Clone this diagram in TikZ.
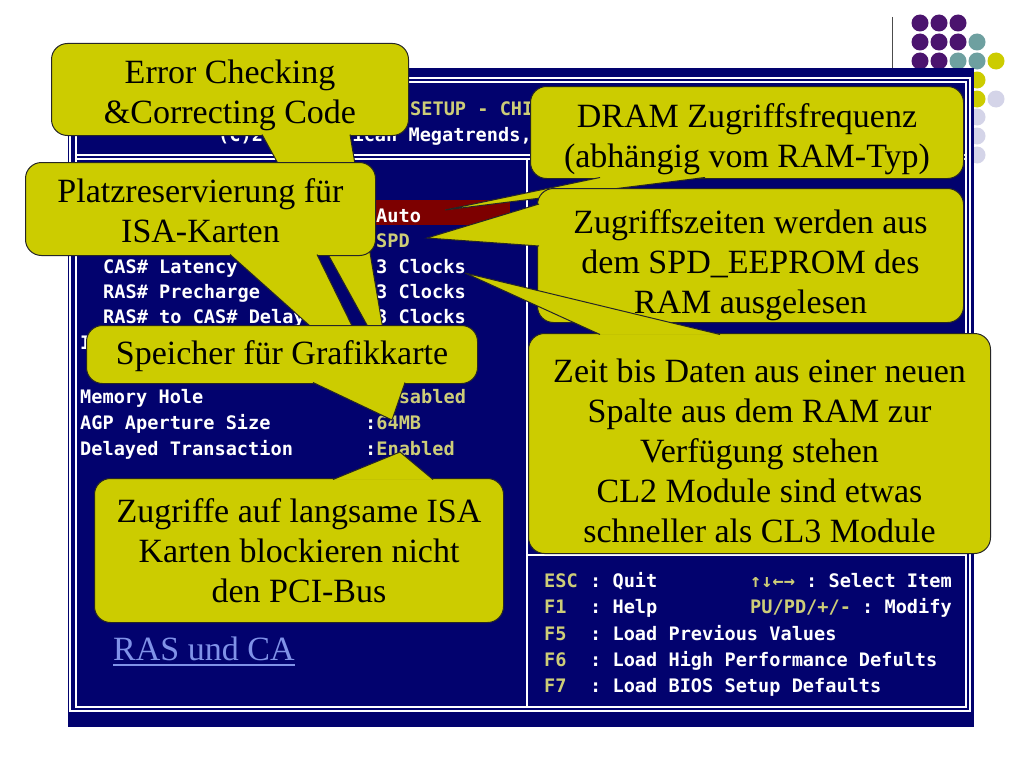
\documentclass[tikz,border=0pt]{standalone}
\usepackage{fontspec}
\setmainfont{Liberation Serif}
\newfontfamily\biosfont{DejaVu Sans Mono}
\definecolor{biosblue}{RGB}{2,2,110}
\definecolor{biosred}{RGB}{125,0,0}
\definecolor{bioskhaki}{RGB}{205,205,120}
\definecolor{callyellow}{RGB}{204,204,0}
\definecolor{linkblue}{RGB}{128,146,232}
\definecolor{dotpurple}{RGB}{75,20,110}
\definecolor{dotteal}{RGB}{110,160,160}
\definecolor{dotlav}{RGB}{212,212,232}

\begin{document}
\begin{tikzpicture}[x=1pt,y=-1pt]
    \tikzstyle{callbox}=[draw=black!85, fill=callyellow, line width=1pt, rounded corners=16pt, inner sep=0pt, align=center, anchor=north west, font=\fontsize{34}{40}\selectfont]
    \tikzstyle{tail}=[draw=black!85, fill=callyellow, line width=1pt]
    \tikzstyle{bios}=[inner sep=0pt, anchor=base west, text=white, font=\biosfont\bfseries\fontsize{18.6}{22}\selectfont\frenchspacing]
    \tikzstyle{biosval}=[bios, text=bioskhaki]
    \tikzstyle{frame}=[draw=white, line width=1.2pt]

    \useasboundingbox (0,0) rectangle (1024,768);
    \fill[white] (0,0) rectangle (1024,768);
    \draw[black!70] (892,17) -- (892,68);
    \foreach \x/\y/\c in {920/23/dotpurple, 939/23/dotpurple, 958/23/dotpurple,
        920/42/dotpurple, 939/42/dotpurple, 958/42/dotpurple, 977/42/dotteal,
        920/61/dotpurple, 939/61/dotpurple, 958/61/dotteal, 977/61/dotteal, 996/61/callyellow,
        977/80/callyellow, 977/99/callyellow, 996/99/dotlav,
        977/117/dotlav, 977/136/dotlav, 977/155/dotlav}
        \fill[\c] (\x,\y) circle (8.5pt);

    \fill[biosblue] (68,68) rectangle (974,727);
    \draw[frame] (70,78) rectangle (970,711);
    \draw[frame] (76,82) rectangle (966,707);
    \draw[frame] (76,155) -- (966,155) (76,159) -- (966,159);
    \draw[frame] (527,159) -- (527,707) (527,555) -- (966,555);
    \fill[biosred] (375,200) rectangle (510,225);

    \node[biosval] (head) at (410,115) {SETUP - CHI};
    \node[bios] (copy) at (218,141) {(C)2001 American Megatrends,};
    \node[bios] (freqVal) at (376,222) {Auto};
    \node[biosval] (timingVal) at (376,247) {SPD};
    \node[bios] (casLbl) at (103,273) {CAS\# Latency};
    \node[bios] (casVal) at (376,273) {3 Clocks};
    \node[bios] (rpLbl) at (103,298) {RAS\# Precharge};
    \node[bios] (rpVal) at (376,298) {3 Clocks};
    \node[bios] (rcdLbl) at (103,323) {RAS\# to CAS\# Delay};
    \node[bios] (rcdVal) at (376,323) {3 Clocks};
    \node[bios] (isaLbl) at (80,349) {I};
    \node[bios] (holeLbl) at (80,403) {Memory Hole};
    \node[bios] (holeVal) at (365,403) {:\textcolor{bioskhaki}{Disabled}};
    \node[bios] (agpLbl) at (80,429) {AGP Aperture Size};
    \node[bios] (agpVal) at (365,429) {:\textcolor{bioskhaki}{64MB}};
    \node[bios] (dtLbl) at (80,455) {Delayed Transaction};
    \node[bios] (dtVal) at (365,455) {:\textcolor{bioskhaki}{Enabled}};

    \foreach \k/\t/\y in {ESC/Quit/587, F1/Help/613, F5/Load Previous Values/640,
        F6/Load High Performance Defults/666, F7/Load BIOS Setup Defaults/692} {
        \node[biosval] (key\k) at (544,\y) {\k};
        \node[bios] (help\k) at (590,\y) {: \t};
    }
    \node[biosval] (selKeys) at (750,587) {↑↓←→~\textcolor{white}{: Select Item}};
    \node[biosval] (modKeys) at (750,613) {PU/PD/+/-~\textcolor{white}{: Modify}};

    \node[callbox, minimum width=357pt, text height=80pt, text depth=12pt] (ecc) at (51,43) {Error Checking\\\&Correcting Code};
    \coordinate (eccTip) at (389,365);
    \filldraw[tail] ([xshift=211pt,yshift=1.5pt]ecc.south west) -- (eccTip) -- ([xshift=299pt,yshift=1.5pt]ecc.south west);

    \node[callbox, minimum width=433pt, text height=81pt, text depth=11pt] (dram) at (530,86) {DRAM Zugriffsfrequenz\\(abhängig vom RAM-Typ)};
    \coordinate (dramTip) at (445,210);
    \filldraw[tail] ([xshift=70pt,yshift=1.5pt]dram.south west) -- (dramTip) -- ([xshift=175pt,yshift=1.5pt]dram.south west);

    \node[callbox, minimum width=350pt, text height=80pt, text depth=13pt] (memhole) at (25,162) {Platzreservierung für\\ISA-Karten};
    \coordinate (memholeTip) at (385,393);
    \filldraw[tail] ([xshift=205pt,yshift=1.5pt]memhole.south west) -- (memholeTip) -- ([xshift=292pt,yshift=1.5pt]memhole.south west);

    \node[callbox, minimum width=426pt, text height=125pt, text depth=9pt] (eeprom) at (537,188) {Zugriffszeiten werden aus\\dem SPD\_EEPROM des\\RAM ausgelesen};
    \coordinate (eepromTip) at (427,238);
    \filldraw[tail] ([xshift=2pt,yshift=-16pt]eeprom.north west) -- (eepromTip) -- ([xshift=2pt,yshift=-58pt]eeprom.north west);

    \node[callbox, minimum width=391pt, text height=39pt, text depth=19pt] (aperture) at (86,325) {Speicher für Grafikkarte};
    \coordinate (apertureTip) at (392,420);
    \filldraw[tail] ([xshift=227pt,yshift=1.5pt]aperture.south west) -- (apertureTip) -- ([xshift=319pt,yshift=1.5pt]aperture.south west);

    \node[callbox, minimum width=462pt, text height=209pt, text depth=11pt] (latency) at (528,333) {Zeit bis Daten aus einer neuen\\Spalte aus dem RAM zur\\Verfügung stehen\\CL2 Module sind etwas\\schneller als CL3 Module};
    \coordinate (latencyTip) at (465,273);
    \filldraw[tail] ([xshift=72pt,yshift=-1.5pt]latency.north west) -- (latencyTip) -- ([xshift=192pt,yshift=-1.5pt]latency.north west);

    \node[callbox, minimum width=409pt, text height=124pt, text depth=20pt] (delayed) at (94,478) {Zugriffe auf langsame ISA\\Karten blockieren nicht\\den PCI-Bus};
    \coordinate (delayedTip) at (400,452);
    \filldraw[tail] ([xshift=239pt,yshift=-1.5pt]delayed.north west) -- (delayedTip) -- ([xshift=339pt,yshift=-1.5pt]delayed.north west);

    \node[inner sep=0pt, anchor=base west, text=linkblue, font=\fontsize{34}{40}\selectfont] (link) at (113,660) {RAS und CA};
    \draw[linkblue, line width=1.5pt] ([yshift=-5pt]link.base west) -- ([yshift=-5pt]link.base east);
\end{tikzpicture}
\end{document}
